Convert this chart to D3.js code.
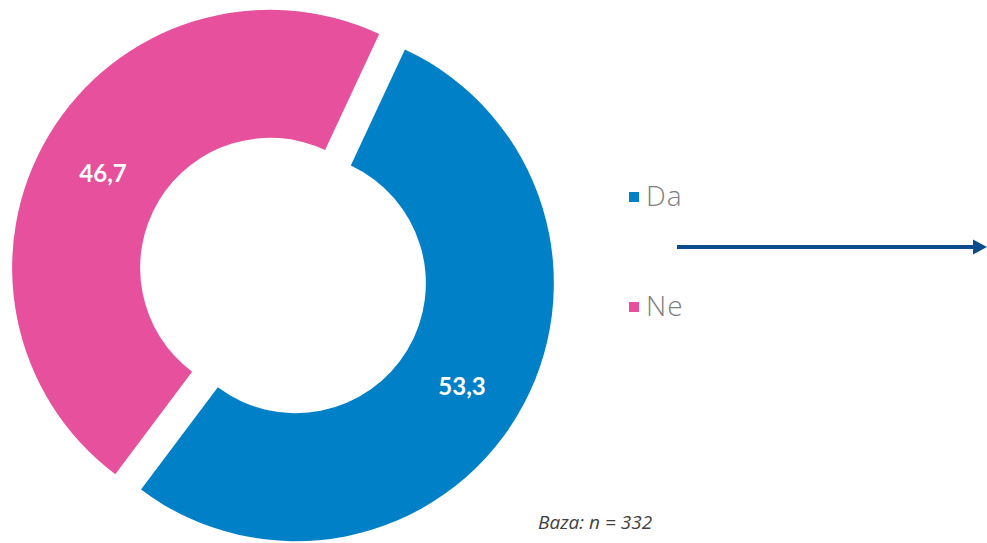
<!DOCTYPE html>
<html><head><meta charset="utf-8">
<script src="https://cdn.jsdelivr.net/npm/d3@7"></script>
<style>body{margin:0;background:#fff}svg{display:block}</style>
</head><body>
<script>
const categories = ["Da", "Ne"];
const values = [53.3, 46.7];
const labels = ["53,3", "46,7"];
const colors = ["#0080c6", "#e6509d"];
const note = "Baza: n = 332";

const W = 987, H = 543;
const svg = d3.select("body").append("svg").attr("width", W).attr("height", H);

const cx = 283, cy = 275.5, rOuter = 258, rInner = 130, explode = 15;
const start = 25 * Math.PI / 180;
const pie = d3.pie().sort(null).startAngle(start).endAngle(start + 2 * Math.PI);
const arcs = pie(values);
const arc = d3.arc().innerRadius(rInner).outerRadius(rOuter);

const g = svg.append("g").attr("transform", `translate(${cx},${cy})`);
arcs.forEach((a, i) => {
  const mid = (a.startAngle + a.endAngle) / 2;
  const dx = explode * Math.sin(mid), dy = -explode * Math.cos(mid);
  const sg = g.append("g").attr("transform", `translate(${dx},${dy})`);
  sg.append("path").attr("d", arc(a)).attr("fill", colors[i]);
});

// data labels
const labelPos = [[462, 385], [103, 172]];
labels.forEach((t, i) => {
  svg.append("text").attr("x", labelPos[i][0]).attr("y", labelPos[i][1])
    .attr("text-anchor", "middle").attr("dominant-baseline", "central")
    .attr("fill", "#fff").attr("font-family", "Lato, 'Open Sans', sans-serif")
    .attr("font-weight", "bold").attr("font-size", 24).text(t);
});

// legend
const legY = [197, 307];
categories.forEach((c, i) => {
  svg.append("rect").attr("x", 629).attr("y", legY[i] - 5).attr("width", 10).attr("height", 10).attr("fill", colors[i]);
  svg.append("text").attr("x", 646).attr("y", legY[i] + 9)
    .attr("fill", "#808080").attr("font-family", "'Open Sans', Lato, sans-serif")
    .attr("font-weight", 300).attr("font-size", 28).attr("letter-spacing", 1).text(c);
});

// arrow
svg.append("line").attr("x1", 677).attr("y1", 247).attr("x2", 975).attr("y2", 247)
  .attr("stroke", "#0b4d8c").attr("stroke-width", 4);
svg.append("path").attr("d", "M973,239.5 L987,247 L973,254.5 Z").attr("fill", "#0b4d8c");

// note
svg.append("text").attr("x", 538).attr("y", 529)
  .attr("fill", "#404040").attr("font-family", "'Open Sans', sans-serif")
  .attr("font-style", "italic").attr("font-size", 19).text(note);
</script>
</body></html>
